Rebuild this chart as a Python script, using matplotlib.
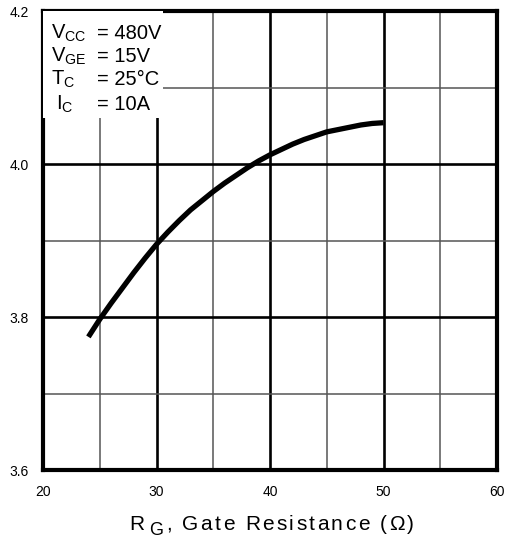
import matplotlib.pyplot as plt
from matplotlib.patches import Rectangle

plt.rcParams['font.family'] = ['Liberation Sans', 'DejaVu Sans']
plt.rcParams['mathtext.fontset'] = 'custom'
plt.rcParams['mathtext.rm'] = 'Liberation Sans'
plt.rcParams['mathtext.it'] = 'Liberation Sans'

# curve
rg = [24, 25, 26, 27, 28, 29, 30, 31, 32, 33, 34, 35, 36, 37,
      38, 39, 40, 41, 42, 43, 44, 45, 46, 47, 48, 49, 50]
val = [3.774, 3.797, 3.818, 3.838, 3.858, 3.877, 3.895, 3.911, 3.926, 3.940,
       3.952, 3.964, 3.975, 3.985, 3.995, 4.004, 4.012, 4.019, 4.026, 4.032,
       4.037, 4.042, 4.045, 4.048, 4.051, 4.053, 4.054]

x_ticks = [20, 30, 40, 50, 60]
y_ticks = [3.6, 3.8, 4.0, 4.2]
cond_names = [r'$\mathregular{V_{CC}}$', r'$\mathregular{V_{GE}}$', r'$\mathregular{T_{C}}$', r'$\mathregular{I_{C}}$']
cond_vals = ['= 480V', '= 15V', '= 25°C', '= 10A']
xlabel_main = 'R'
xlabel_sub = 'G'
xlabel_rest = ', Gate Resistance (\u03a9)'

W, H = 506, 538
fig = plt.figure(figsize=(W / 100, H / 100), dpi=100)
ax = fig.add_axes([43 / W, 68 / H, 454 / W, 459 / H])

ax.set_xlim(20, 60)
ax.set_ylim(3.6, 4.2)
ax.set_xticks(x_ticks)
ax.set_yticks(y_ticks)
ax.set_xticks([25, 35, 45, 55], minor=True)
ax.set_yticks([3.7, 3.9, 4.1], minor=True)
ax.set_xticklabels([str(t) for t in x_ticks])
ax.set_yticklabels(['%.1f' % t for t in y_ticks])
ax.tick_params(which='both', length=0, labelsize=10)
ax.tick_params(axis='x', pad=11)
ax.tick_params(axis='y', pad=10)

ax.grid(which='major', color='black', linewidth=1.9)
ax.grid(which='minor', color='#555555', linewidth=1.1)
ax.set_axisbelow(True)
for s in ax.spines.values():
    s.set_linewidth(3)

ax.plot(rg, val, color='black', linewidth=3.8, solid_capstyle='butt', zorder=3)

# white box behind the test conditions
ax.add_patch(Rectangle((0, 1), 120 / 454, -107 / 459, transform=ax.transAxes,
                       facecolor='white', edgecolor='none', zorder=4))
base = [39, 62, 85, 110]
name_x = [51, 51, 51, 56]
for i in range(4):
    fig.text(name_x[i] / W, 1 - base[i] / H, cond_names[i], fontsize=14.5,
             va='baseline', ha='left', zorder=5)
    fig.text(97 / W, 1 - base[i] / H, cond_vals[i], fontsize=14.5,
             va='baseline', ha='left', zorder=5)

# x label, drawn letter by letter because the original is spaced out
r = fig.canvas.get_renderer()


def char_width(ch, size):
    t1 = fig.text(0, 0, 'l' + ch + 'l', fontsize=size)
    t2 = fig.text(0, 0, 'll', fontsize=size)
    w = t1.get_window_extent(r).width - t2.get_window_extent(r).width
    t1.remove()
    t2.remove()
    return w


fig.text(129 / W, 1 - 530 / H, xlabel_main, fontsize=15, va='baseline')
fig.text(149 / W, 1 - 535 / H, xlabel_sub, fontsize=13, va='baseline')
widths = [char_width(c, 15) for c in xlabel_rest]
track = (414 - 166 - sum(widths)) / (len(xlabel_rest) - 1)
xp = 166
for c, w in zip(xlabel_rest, widths):
    if c != ' ':
        fig.text(xp / W, 1 - 530 / H, c, fontsize=15, va='baseline')
    xp += w + track

fig.savefig('out.png', dpi=100)
